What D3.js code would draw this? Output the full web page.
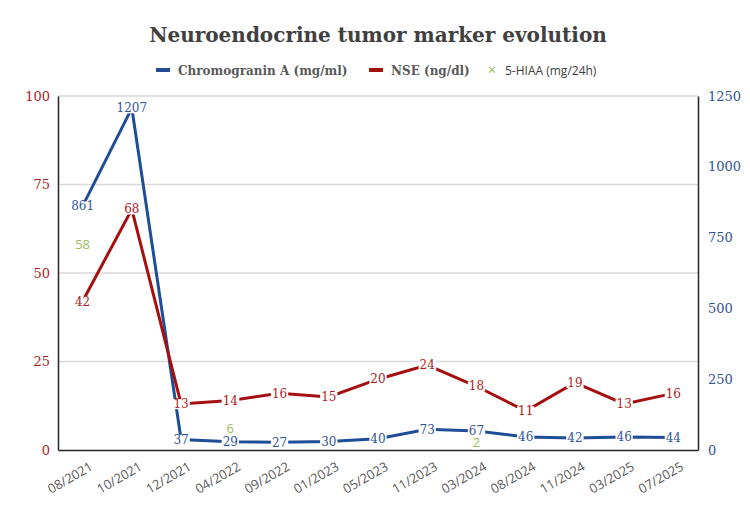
<!DOCTYPE html>
<html>
<head>
<meta charset="utf-8">
<script src="https://cdn.jsdelivr.net/npm/d3@7"></script>
<style>
  body { margin: 0; background: #fff; }
</style>
</head>
<body>
<svg class="chart" width="750" height="511"></svg>
<script>
// tumor markers over time

var dates = ["08/2021", "10/2021", "12/2021", "04/2022", "09/2022", "01/2023", "05/2023",
             "11/2023", "03/2024", "08/2024", "11/2024", "03/2025", "07/2025"];
var chromogranin = [861, 1207, 37, 29, 27, 30, 40, 73, 67, 46, 42, 46, 44];
var nse = [42, 68, 13, 14, 16, 15, 20, 24, 18, 11, 19, 13, 16];
var hiaaDates = ["08/2021", "04/2022", "03/2024"];
var hiaa = [58, 6, 2];
var leftTicks = [0, 25, 50, 75, 100];
var rightTicks = [0, 250, 500, 750, 1000, 1250];

var blue = "#1F4E96";
var red = "#A50F0F";
var green = "#9BBB59";
var serif = "'DejaVu Serif', Georgia, serif";
var sans = "'Open Sans', 'Liberation Sans', sans-serif";

var svg = d3.select(".chart");

var plotLeft = 58, plotRight = 698, plotTop = 96, plotBottom = 450;

var x = d3.scaleBand().domain(dates).range([plotLeft, plotRight]);
var yL = d3.scaleLinear().domain([0, 100]).range([plotBottom, plotTop]);
var yR = d3.scaleLinear().domain([0, 1250]).range([plotBottom, plotTop]);
function cx(d) { return x(d) + x.bandwidth() / 2; }

// title
svg.append("text")
    .attr("x", 378)
    .attr("y", 42)
    .attr("text-anchor", "middle")
    .attr("font-family", serif)
    .attr("font-weight", "bold")
    .attr("font-size", "20px")
    .attr("fill", "#404040")
    .text("Neuroendocrine tumor marker evolution");

// legend
var lg = svg.append("g").attr("transform", "translate(0,70)");
lg.append("rect").attr("x", 156).attr("y", -2).attr("width", 14).attr("height", 4).attr("fill", blue);
lg.append("text").attr("x", 178).attr("y", 5)
    .attr("font-family", serif).attr("font-weight", "bold").attr("font-size", "12px").attr("fill", "#595959")
    .text("Chromogranin A (mg/ml)");
lg.append("rect").attr("x", 369).attr("y", -2).attr("width", 14).attr("height", 4).attr("fill", red);
lg.append("text").attr("x", 391).attr("y", 5)
    .attr("font-family", serif).attr("font-weight", "bold").attr("font-size", "12px").attr("fill", "#595959")
    .text("NSE (ng/dl)");
lg.append("text").attr("x", 492).attr("y", 5).attr("text-anchor", "middle")
    .attr("font-family", sans).attr("font-size", "15px").attr("fill", green).text("\u00d7");
lg.append("text").attr("x", 505).attr("y", 5)
    .attr("font-family", sans).attr("font-size", "12px").attr("fill", "#404040")
    .text("5-HIAA (mg/24h)");

// gridlines
svg.append("g")
    .selectAll("line")
    .data(leftTicks.slice(1))
    .join("line")
    .attr("x1", plotLeft).attr("x2", plotRight)
    .attr("y1", function (d) { return yL(d); })
    .attr("y2", function (d) { return yL(d); })
    .attr("stroke", "#d9d9d9")
    .attr("stroke-width", 1.5);

// axes
var axL = svg.append("g")
    .attr("transform", "translate(" + plotLeft + ",0)")
    .call(d3.axisLeft(yL).tickValues(leftTicks).tickSize(0).tickPadding(8));
axL.select(".domain").attr("stroke", "#262626").attr("stroke-width", 1.5);
axL.selectAll("text").attr("font-family", serif).attr("font-size", "13px").attr("fill", "#B01C1C");

var axR = svg.append("g")
    .attr("transform", "translate(" + plotRight + ",0)")
    .call(d3.axisRight(yR).tickValues(rightTicks).tickFormat(d3.format("d")).tickSize(0).tickPadding(10));
axR.select(".domain").attr("stroke", "#262626").attr("stroke-width", 1.5);
axR.selectAll("text").attr("font-family", serif).attr("font-size", "13px").attr("fill", "#2F5597");

var axB = svg.append("g")
    .attr("transform", "translate(0," + plotBottom + ")")
    .call(d3.axisBottom(x).tickSize(0).tickPadding(0));
axB.select(".domain").attr("stroke", "#262626").attr("stroke-width", 1.5);
axB.selectAll("text")
    .attr("font-family", sans)
    .attr("font-size", "13px")
    .attr("fill", "#595959")
    .attr("text-anchor", "end")
    .attr("x", 0)
    .attr("y", 13)
    .attr("dy", "0.71em")
    .attr("transform", "rotate(-30)");

// lines
var lineL = d3.line().x(function (d) { return cx(d[0]); }).y(function (d) { return yL(d[1]); });
var lineR = d3.line().x(function (d) { return cx(d[0]); }).y(function (d) { return yR(d[1]); });

svg.append("path")
    .datum(d3.zip(dates, chromogranin))
    .attr("d", lineR)
    .attr("fill", "none")
    .attr("stroke", blue)
    .attr("stroke-width", 3);

svg.append("path")
    .datum(d3.zip(dates, nse))
    .attr("d", lineL)
    .attr("fill", "none")
    .attr("stroke", red)
    .attr("stroke-width", 3);

// data labels with white box behind
function labels(data, yScale, color, font, size) {
    var g = svg.append("g");
    data.forEach(function (d) {
        var t = g.append("text")
            .attr("x", cx(d[0]))
            .attr("y", yScale(d[1]))
            .attr("dy", "0.35em")
            .attr("text-anchor", "middle")
            .attr("font-family", font)
            .attr("font-size", size)
            .attr("fill", color)
            .text(d[1]);
        var b = t.node().getBBox();
        g.insert("rect", "text")
            .attr("x", b.x - 1).attr("y", b.y + 2)
            .attr("width", b.width + 2).attr("height", b.height - 4)
            .attr("fill", "#fff");
    });
}

labels(d3.zip(dates, chromogranin), yR, "#2F5597", serif, "12px");
labels(d3.zip(dates, nse), yL, "#B01C1C", serif, "12px");
labels(d3.zip(hiaaDates, hiaa), yL, green, sans, "13px");
</script>
</body>
</html>
